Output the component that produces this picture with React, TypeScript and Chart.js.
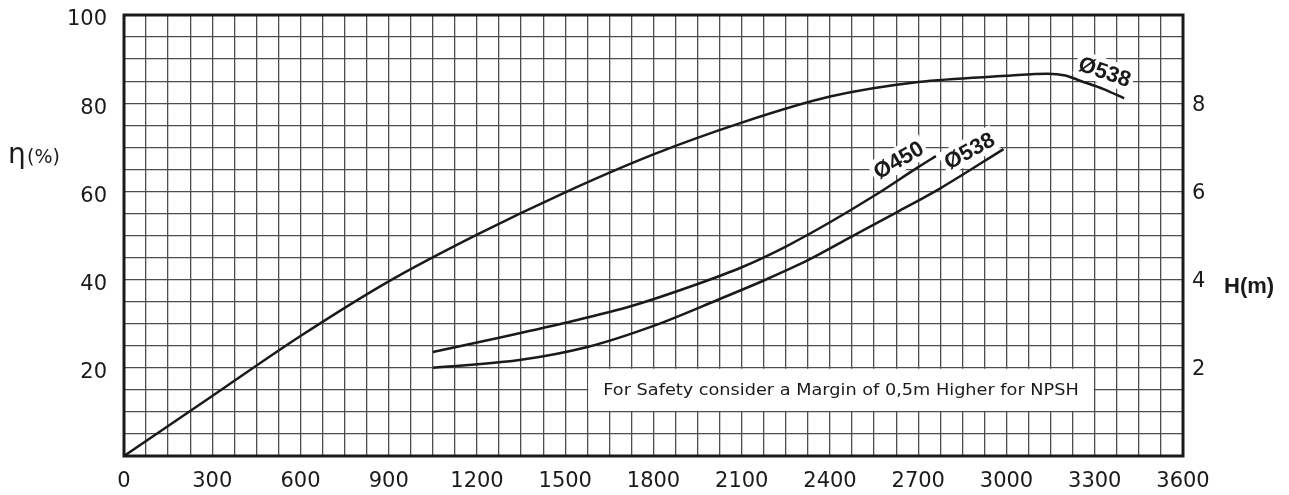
import React, { useEffect, useRef } from 'react';
import { Chart, registerables } from 'chart.js';

Chart.register(...registerables);

// ---- Data ----
const effFlow = [0, 300, 600, 900, 1200, 1500, 1800, 2100, 2400, 2700, 3000, 3140, 3200, 3250, 3330, 3400];
const effValues = [0, 13.6, 27.2, 39.6, 50.2, 59.8, 68.4, 75.6, 81.5, 84.8, 86.2, 86.7, 86.3, 85.1, 83.2, 81.1];

const h450Flow = [1050, 1275, 1500, 1725, 1950, 2100, 2250, 2400, 2550, 2700, 2760];
const h450Values = [2.36, 2.68, 3.02, 3.4, 3.9, 4.28, 4.75, 5.3, 5.9, 6.55, 6.8];

const h538Flow = [1050, 1350, 1575, 1800, 2025, 2175, 2325, 2475, 2625, 2775, 2990];
const h538Values = [2.0, 2.18, 2.47, 2.95, 3.56, 3.98, 4.44, 4.98, 5.52, 6.07, 6.96];

const xTickLabels = [0, 300, 600, 900, 1200, 1500, 1800, 2100, 2400, 2700, 3000, 3300, 3600];
const leftTickLabels = [20, 40, 60, 80, 100];
const rightTickLabels = [2, 4, 6, 8];

const curveLabelTexts = ['Ø450', 'Ø538', 'Ø538'];
const noteText = 'For Safety consider a Margin of 0,5m Higher for NPSH';

const INK = '#1a1a1a';
const GRID = '#4d4d4d';

function toPoints(xs: number[], ys: number[]) {
  return xs.map((x, i) => ({ x, y: ys[i] }));
}

function zeroPad(s: any) {
  s.paddingTop = 0;
  s.paddingBottom = 0;
  s.paddingLeft = 0;
  s.paddingRight = 0;
}

const overlayPlugin = {
  id: 'overlay',
  beforeDatasetsDraw(chart: any) {
    const ctx: CanvasRenderingContext2D = chart.ctx;
    const xs = chart.scales.x;
    const y = chart.scales.y;
    const y2 = chart.scales.y2;

    // note box
    const bx1 = xs.getPixelForValue(1575);
    const bx2 = xs.getPixelForValue(3300);
    const by1 = y.getPixelForValue(20);
    const by2 = y.getPixelForValue(10);
    ctx.save();
    ctx.fillStyle = '#ffffff';
    ctx.fillRect(bx1 + 1, by1 + 1, bx2 - bx1 - 2, by2 - by1 - 2);
    ctx.font = '16px "DejaVu Sans"';
    ctx.fillStyle = INK;
    ctx.textAlign = 'center';
    ctx.textBaseline = 'middle';
    const w = ctx.measureText(noteText).width;
    const target = bx2 - bx1 - 32;
    ctx.translate((bx1 + bx2) / 2, (by1 + by2) / 2 + 1);
    ctx.scale(target / w, 1);
    ctx.fillText(noteText, 0, 0);
    ctx.restore();

    // curve labels
    const labels = [
      { text: curveLabelTexts[0], px: xs.getPixelForValue(2633), py: y2.getPixelForValue(6.71), angle: -30 },
      { text: curveLabelTexts[1], px: xs.getPixelForValue(2874), py: y2.getPixelForValue(6.92), angle: -29 },
      { text: curveLabelTexts[2], px: xs.getPixelForValue(3334), py: y.getPixelForValue(87.1), angle: 19 },
    ];
    labels.forEach((l) => {
      ctx.save();
      ctx.translate(l.px, l.py);
      ctx.rotate((l.angle * Math.PI) / 180);
      ctx.font = 'bold 22px "Liberation Sans"';
      const tw = ctx.measureText(l.text).width;
      ctx.fillStyle = '#ffffff';
      ctx.fillRect(-tw / 2 - 3, -13, tw + 6, 25);
      ctx.fillStyle = INK;
      ctx.textAlign = 'center';
      ctx.textBaseline = 'middle';
      ctx.fillText(l.text, 0, 1);
      ctx.restore();
    });
  },
  afterDraw(chart: any) {
    const ctx: CanvasRenderingContext2D = chart.ctx;
    const a = chart.chartArea;
    ctx.save();
    ctx.strokeStyle = INK;
    ctx.lineWidth = 3;
    ctx.strokeRect(a.left, a.top, a.right - a.left, a.bottom - a.top);

    // eta axis title
    ctx.fillStyle = INK;
    ctx.textBaseline = 'alphabetic';
    ctx.textAlign = 'left';
    ctx.font = '28px "DejaVu Sans"';
    ctx.fillText('η', 8, 163);
    ctx.font = '19px "DejaVu Sans"';
    ctx.fillText('(%)', 27, 163);

    // H(m) title
    const y2 = chart.scales.y2;
    ctx.font = 'bold 22px "Liberation Sans"';
    ctx.textBaseline = 'middle';
    ctx.fillText('H(m)', a.right + 41, y2.getPixelForValue(4) + 7);
    ctx.restore();
  },
};

export default function App() {
  const ref = useRef<HTMLCanvasElement>(null);

  useEffect(() => {
    if (!ref.current) return;
    const tickFont = { family: '"DejaVu Sans"', size: 21 };
    const chart = new Chart(ref.current, {
      type: 'line',
      data: {
        datasets: [
          {
            label: 'Efficiency Ø538',
            data: toPoints(effFlow, effValues),
            yAxisID: 'y',
            borderColor: INK,
            borderWidth: 2.5,
            pointRadius: 0,
            fill: false,
            cubicInterpolationMode: 'monotone',
          },
          {
            label: 'NPSH Ø450',
            data: toPoints(h450Flow, h450Values),
            yAxisID: 'y2',
            borderColor: INK,
            borderWidth: 2.5,
            pointRadius: 0,
            fill: false,
            cubicInterpolationMode: 'monotone',
          },
          {
            label: 'NPSH Ø538',
            data: toPoints(h538Flow, h538Values),
            yAxisID: 'y2',
            borderColor: INK,
            borderWidth: 2.5,
            pointRadius: 0,
            fill: false,
            cubicInterpolationMode: 'monotone',
          },
        ],
      },
      options: {
        responsive: false,
        animation: false,
        devicePixelRatio: 1,
        layout: { padding: { top: 15, left: 0, right: 0, bottom: 0 } },
        plugins: {
          legend: { display: false },
          tooltip: { enabled: false },
        },
        scales: {
          x: {
            type: 'linear',
            min: 0,
            max: 3600,
            afterFit: (s: any) => { s.height = 39; zeroPad(s); },
            afterBuildTicks: (s: any) => {
              const t = [];
              for (let v = 0; v <= 3600; v += 75) t.push({ value: v });
              s.ticks = t;
            },
            ticks: {
              autoSkip: false,
              maxRotation: 0,
              padding: 13,
              color: INK,
              font: tickFont,
              callback: (v: any) => (xTickLabels.includes(Number(v)) ? String(v) : ''),
            },
            grid: { color: GRID, lineWidth: 1.3, drawTicks: false },
            border: { display: false },
          },
          y: {
            type: 'linear',
            position: 'left',
            min: 0,
            max: 100,
            afterFit: (s: any) => { s.width = 124; zeroPad(s); },
            afterBuildTicks: (s: any) => {
              const t = [];
              for (let v = 0; v <= 100; v += 5) t.push({ value: v });
              s.ticks = t;
            },
            ticks: {
              autoSkip: false,
              padding: 17,
              labelOffset: 5,
              color: INK,
              font: tickFont,
              callback: (v: any) => (leftTickLabels.includes(Number(v)) ? String(v) : ''),
            },
            grid: { color: GRID, lineWidth: 1.3, drawTicks: false },
            border: { display: false },
          },
          y2: {
            type: 'linear',
            position: 'right',
            min: 0,
            max: 10,
            afterFit: (s: any) => { s.width = 106; zeroPad(s); },
            afterBuildTicks: (s: any) => {
              s.ticks = rightTickLabels.map((v) => ({ value: v }));
            },
            ticks: {
              autoSkip: false,
              padding: 9,
              labelOffset: 2,
              color: INK,
              font: tickFont,
              callback: (v: any) => String(v),
            },
            grid: { display: false, drawTicks: false },
            border: { display: false },
          },
        },
      } as any,
      plugins: [overlayPlugin],
    });
    return () => chart.destroy();
  }, []);

  return (
    <div style={{ position: 'fixed', left: 0, top: 0, width: 1289, height: 495, background: '#fff' }}>
      <canvas ref={ref} width={1289} height={495} style={{ width: 1289, height: 495, display: 'block' }} />
    </div>
  );
}
